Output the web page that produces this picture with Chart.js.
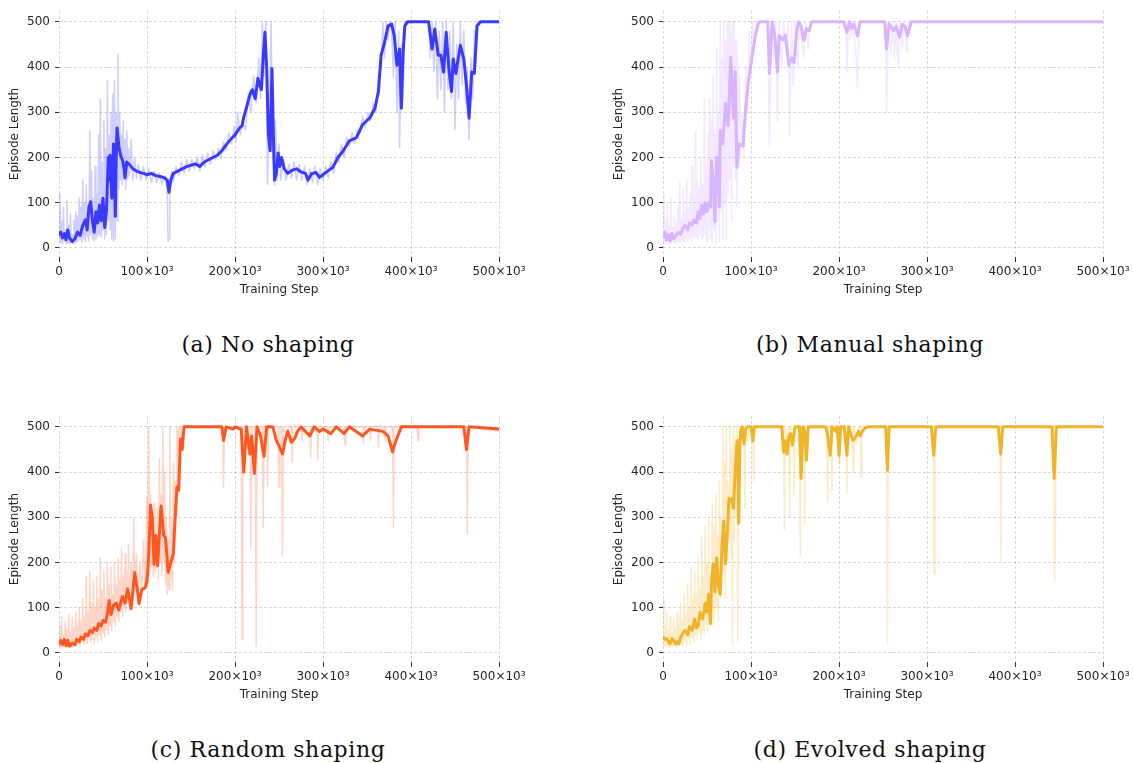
<!DOCTYPE html>
<html>
<head>
<meta charset="utf-8">
<script src="https://cdn.jsdelivr.net/npm/chart.js@4"></script>
<style>
  body { margin: 0; background: #fff; width: 1133px; height: 763px; overflow: hidden; position: relative; }
  canvas { position: absolute; }
  .caption { position: absolute; width: 400px; text-align: center; font-family: 'DejaVu Serif', serif; font-size: 22px; line-height: 22px; letter-spacing: 0.6px; color: #111; }
</style>
</head>
<body>
<canvas id="chartA" width="529" height="300" style="left:0;top:0"></canvas>
<canvas id="chartB" width="529" height="300" style="left:604px;top:0"></canvas>
<canvas id="chartC" width="529" height="300" style="left:0;top:405px"></canvas>
<canvas id="chartD" width="529" height="300" style="left:604px;top:405px"></canvas>
<div class="caption" style="left:68px;top:334px">(a) No shaping</div>
<div class="caption" style="left:670px;top:334px">(b) Manual shaping</div>
<div class="caption" style="left:68px;top:739px">(c) Random shaping</div>
<div class="caption" style="left:670px;top:739px">(d) Evolved shaping</div>
<script>
/* global Chart */

// steps are in thousands, values are episode lengths
const xTicks = [0, 100000, 200000, 300000, 400000, 500000];
const yTicks = [0, 100, 200, 300, 400, 500];

const noShapingSmooth = [[0,30],[2,35],[4,22],[6,32],[8,18],[10,40],[12,22],[15,14],[18,20],[21,35],[24,28],[27,50],[30,62],[32,40],[34,90],[36,102],[38,60],[40,35],[42,80],[44,55],[46,95],[48,60],[50,110],[52,45],[54,85],[56,200],[57,150],[58,205],[60,110],[62,230],[63,150],[64,70],[65,200],[66,265],[68,225],[70,205],[72,195],[74,175],[75,155],[77,190],[80,185],[84,175],[88,170],[92,167],[96,165],[100,162],[105,165],[110,160],[115,158],[120,155],[123,150],[125,123],[127,150],[130,165],[135,170],[140,175],[145,180],[150,183],[155,186],[160,180],[165,190],[170,195],[175,200],[180,205],[185,215],[190,228],[195,240],[200,250],[205,265],[208,270],[210,290],[213,310],[215,325],[218,345],[220,350],[223,330],[226,375],[228,360],[230,350],[232,420],[234,477],[236,400],[238,250],[240,215],[242,397],[244,220],[245,150],[247,165],[249,210],[251,180],[253,200],[256,175],[260,165],[265,172],[270,175],[275,168],[280,165],[283,150],[287,164],[292,167],[296,156],[300,162],[306,171],[311,178],[317,200],[323,215],[330,237],[338,244],[345,273],[353,287],[359,309],[363,346],[366,426],[370,455],[374,491],[378,495],[381,469],[384,404],[387,440],[389,309],[391,433],[393,491],[396,500],[420,500],[424,440],[427,484],[431,426],[434,426],[437,389],[440,477],[443,397],[446,346],[448,418],[451,386],[456,448],[460,418],[463,360],[466,287],[469,389],[472,386],[475,491],[479,500],[500,500]];
const noShapingRaw = [[0,15],[1,120],[2,12],[3,60],[4,10],[5,90],[6,15],[7,40],[8,10],[9,105],[10,12],[11,50],[12,10],[13,75],[14,12],[15,30],[16,10],[17,60],[18,15],[19,80],[20,12],[21,70],[22,15],[23,110],[24,18],[25,90],[26,12],[27,150],[28,20],[29,100],[30,15],[31,140],[32,25],[33,95],[34,15],[35,260],[36,30],[37,170],[38,20],[39,110],[40,15],[41,180],[42,20],[43,120],[44,25],[45,250],[46,30],[47,330],[48,25],[49,190],[50,40],[51,280],[52,20],[53,220],[54,30],[55,370],[56,60],[57,250],[58,40],[59,300],[60,20],[61,340],[62,15],[63,370],[64,20],[65,300],[66,60],[67,428],[68,130],[69,300],[70,150],[71,250],[72,140],[73,280],[74,150],[75,240],[76,130],[77,260],[78,150],[79,220],[80,160],[82,240],[84,150],[86,200],[88,155],[90,185],[93,150],[96,180],[99,150],[102,175],[105,145],[108,170],[111,145],[114,165],[117,140],[120,160],[123,130],[124,15],[125,20],[126,150],[128,170],[130,145],[133,180],[136,160],[139,190],[142,165],[145,195],[148,170],[151,195],[154,175],[157,200],[160,170],[163,205],[166,180],[169,210],[172,185],[175,215],[178,195],[181,220],[184,200],[187,235],[190,215],[193,255],[196,230],[199,270],[201,235],[203,300],[206,250],[209,280],[212,260],[215,340],[218,300],[221,380],[224,320],[227,420],[229,330],[231,500],[233,380],[235,500],[237,140],[239,300],[241,500],[243,200],[245,140],[246,280],[248,150],[250,230],[252,150],[255,195],[258,150],[261,185],[264,155],[267,190],[270,150],[273,185],[276,150],[279,180],[282,140],[285,175],[288,145],[291,180],[294,140],[297,175],[300,150],[303,180],[306,155],[309,190],[312,165],[315,210],[318,190],[321,230],[324,200],[327,245],[330,225],[333,255],[336,230],[339,260],[342,255],[345,290],[348,265],[351,300],[354,280],[357,320],[360,300],[363,380],[366,400],[368,500],[370,420],[372,500],[374,460],[376,500],[378,480],[380,380],[382,500],[384,300],[386,480],[387,222],[389,450],[391,330],[393,500],[420,500],[422,420],[424,500],[426,390],[428,500],[430,330],[432,480],[434,350],[436,500],[438,300],[440,500],[442,350],[444,480],[446,330],[448,500],[450,262],[452,450],[454,330],[456,500],[458,360],[460,480],[462,320],[464,400],[466,240],[468,420],[470,330],[472,480],[474,420],[476,500],[500,500]];

const manualSmooth = [[0,25],[2,35],[4,18],[6,30],[8,15],[10,32],[12,20],[15,28],[18,35],[20,30],[23,45],[25,50],[28,40],[30,55],[33,50],[35,62],[38,55],[40,80],[42,65],[44,95],[46,75],[48,100],[50,80],[52,100],[54,90],[55,193],[57,150],[59,58],[61,200],[63,150],[64,91],[65,260],[68,230],[71,320],[74,270],[77,422],[80,287],[82,390],[84,178],[86,230],[91,225],[94,310],[97,367],[101,420],[105,470],[108,495],[110,500],[119,500],[121,386],[124,500],[127,470],[130,389],[132,470],[136,460],[139,470],[143,404],[146,420],[149,410],[152,480],[154,500],[157,490],[160,459],[163,485],[166,480],[169,500],[205,500],[209,477],[212,500],[214,485],[217,495],[221,469],[224,500],[252,500],[254,440],[257,495],[262,480],[265,490],[269,466],[272,495],[275,490],[278,469],[282,500],[500,500]];
const manualRaw = [[0,40],[1,120],[2,10],[3,60],[4,12],[5,100],[6,10],[7,50],[8,12],[9,110],[10,10],[11,45],[12,15],[13,70],[14,10],[15,55],[16,12],[17,90],[18,15],[19,145],[20,12],[21,60],[22,18],[23,130],[24,15],[25,80],[26,20],[27,150],[28,15],[29,90],[30,20],[31,120],[32,15],[33,180],[34,25],[35,100],[36,20],[37,260],[38,25],[39,150],[40,20],[41,130],[42,30],[43,200],[44,20],[45,140],[46,25],[47,330],[48,30],[49,180],[50,15],[51,250],[52,40],[53,330],[54,20],[55,280],[56,10],[57,380],[58,40],[59,250],[60,10],[61,440],[62,60],[63,300],[64,15],[65,500],[66,80],[67,420],[68,20],[69,500],[70,100],[71,460],[72,20],[73,500],[74,120],[75,500],[76,150],[77,480],[78,60],[79,500],[80,180],[81,500],[82,150],[83,460],[84,90],[85,420],[86,180],[87,380],[88,200],[90,300],[92,200],[94,400],[96,300],[98,480],[100,380],[102,500],[104,450],[106,500],[119,500],[121,222],[123,500],[126,420],[128,500],[130,280],[132,500],[135,400],[137,500],[140,430],[142,500],[144,250],[146,500],[148,360],[150,500],[153,400],[155,500],[160,420],[162,500],[165,440],[167,500],[208,500],[209,389],[211,500],[213,460],[215,500],[219,440],[221,353],[223,500],[253,500],[254,300],[256,500],[259,430],[261,500],[263,420],[265,500],[267,400],[269,500],[272,440],[274,500],[277,430],[279,500],[500,500]];

const randomSmooth = [[0,20],[2,28],[4,18],[6,30],[8,16],[10,28],[12,15],[15,22],[18,18],[20,30],[23,25],[25,35],[28,30],[30,42],[33,38],[35,50],[38,45],[40,55],[43,50],[45,65],[48,60],[50,72],[53,68],[55,87],[57,116],[59,85],[62,105],[65,110],[68,95],[72,125],[75,110],[78,142],[82,98],[86,178],[89,140],[91,109],[94,140],[98,145],[100,160],[102,218],[104,327],[106,300],[108,196],[110,260],[112,193],[116,325],[119,260],[121,255],[124,178],[127,200],[130,220],[132,300],[134,367],[136,360],[138,473],[140,450],[142,500],[185,500],[187,470],[190,500],[198,495],[200,500],[207,495],[210,400],[213,500],[217,440],[219,480],[222,397],[225,500],[229,480],[233,435],[236,500],[243,500],[247,470],[250,458],[254,440],[257,470],[260,490],[264,466],[268,475],[271,490],[275,500],[285,480],[290,500],[296,490],[300,495],[309,485],[315,500],[324,485],[330,500],[345,480],[353,495],[368,490],[374,480],[379,445],[383,470],[386,485],[389,500],[460,500],[463,450],[466,500],[500,495]];
const randomRaw = [[0,15],[1,60],[2,12],[3,80],[4,15],[5,40],[6,12],[7,70],[8,20],[9,50],[10,12],[11,85],[12,15],[13,45],[14,12],[15,80],[16,15],[17,55],[18,20],[19,90],[20,15],[21,60],[22,20],[23,100],[24,15],[25,70],[26,25],[27,120],[28,20],[29,80],[30,25],[31,170],[32,20],[33,90],[34,30],[35,180],[36,25],[37,110],[38,30],[39,160],[40,20],[41,100],[42,35],[43,170],[44,25],[45,120],[46,40],[47,210],[48,30],[49,140],[50,45],[51,180],[52,35],[53,120],[54,50],[55,200],[56,40],[57,150],[58,60],[59,190],[60,50],[61,130],[62,70],[63,200],[64,60],[65,150],[66,80],[67,210],[68,70],[69,160],[70,90],[71,230],[72,80],[73,170],[74,100],[75,220],[76,90],[77,180],[78,110],[79,240],[80,100],[82,200],[84,120],[85,298],[86,130],[88,220],[90,120],[92,200],[94,130],[96,250],[98,140],[100,345],[101,150],[102,500],[103,170],[104,350],[105,190],[106,280],[107,170],[108,330],[109,180],[110,250],[111,190],[112,320],[113,160],[114,430],[115,200],[116,350],[117,170],[118,500],[119,200],[120,400],[121,150],[122,300],[123,130],[124,250],[125,140],[126,500],[127,160],[128,300],[129,140],[130,420],[131,200],[132,380],[133,300],[134,500],[135,350],[136,500],[137,420],[138,500],[140,470],[142,500],[186,500],[187,367],[188,500],[207,500],[208,29],[209,500],[213,500],[214,450],[215,500],[217,500],[218,233],[219,500],[223,500],[224,15],[225,500],[231,500],[232,277],[233,500],[236,500],[237,370],[238,500],[249,500],[250,367],[251,500],[253,500],[254,215],[255,500],[259,480],[261,500],[264,500],[265,422],[266,500],[275,500],[276,470],[277,500],[285,500],[286,433],[287,500],[293,500],[294,426],[295,500],[305,500],[306,470],[307,500],[324,500],[325,460],[326,500],[345,500],[346,465],[347,500],[353,500],[354,470],[355,500],[362,500],[363,455],[364,500],[370,500],[371,470],[372,500],[379,500],[380,278],[381,500],[407,500],[408,470],[409,500],[463,500],[464,265],[465,500],[500,490]];

const evolvedSmooth = [[0,35],[2,30],[4,32],[6,25],[8,20],[10,32],[12,28],[14,20],[16,25],[18,20],[20,35],[23,45],[25,50],[28,40],[30,58],[33,50],[36,75],[38,55],[40,60],[42,90],[45,75],[48,110],[50,90],[52,130],[54,65],[55,150],[57,197],[59,135],[61,210],[63,150],[65,130],[67,233],[69,291],[71,197],[73,260],[75,342],[78,340],[80,320],[82,400],[84,466],[85,470],[86,287],[87,420],[88,490],[90,500],[92,462],[94,495],[96,500],[100,500],[102,469],[104,500],[135,500],[137,444],[139,470],[141,440],[143,480],[145,485],[147,460],[150,500],[155,500],[157,386],[159,500],[161,490],[163,426],[165,500],[185,500],[187,480],[190,437],[192,500],[196,490],[198,500],[200,437],[202,500],[206,500],[209,437],[211,500],[214,480],[216,470],[219,478],[222,490],[224,480],[227,492],[230,498],[233,500],[253,500],[255,404],[257,500],[305,500],[307.6,437],[310,500],[381,500],[383.7,440],[386,500],[442,500],[444.5,386],[447,500],[500,500]];
const evolvedRaw = [[0,120],[1,15],[2,60],[3,12],[4,90],[5,15],[6,50],[7,12],[8,80],[9,15],[10,40],[11,12],[12,75],[13,15],[14,55],[15,12],[16,90],[17,15],[18,60],[19,20],[20,110],[21,15],[22,70],[23,20],[24,130],[25,25],[26,85],[27,20],[28,150],[29,30],[30,100],[31,20],[32,190],[33,35],[34,120],[35,25],[36,180],[37,40],[38,130],[39,30],[40,210],[41,45],[42,140],[43,30],[44,260],[45,50],[46,170],[47,40],[48,280],[49,60],[50,200],[51,45],[52,300],[53,70],[54,180],[55,90],[56,330],[57,60],[58,280],[59,80],[60,350],[61,100],[62,260],[63,70],[64,380],[65,120],[66,300],[67,150],[68,500],[69,180],[70,420],[71,120],[72,500],[73,200],[74,380],[75,250],[76,500],[77,210],[78,450],[79,20],[80,500],[81,250],[82,480],[83,300],[84,500],[85,25],[86,400],[87,300],[88,500],[90,480],[92,500],[93,320],[94,500],[96,470],[98,500],[102,500],[103,378],[104,500],[137,500],[138,273],[139,500],[141,460],[143,500],[144,300],[145,500],[148,470],[149,349],[150,500],[155,500],[156,215],[157,500],[160,500],[161,284],[162,500],[186,500],[187,335],[188,500],[191,500],[192,360],[193,500],[199,500],[200,420],[201,500],[208,500],[209,353],[210,500],[215,500],[216,400],[217,500],[220,460],[222,500],[224,500],[225,389],[226,500],[254,500],[255,22],[256,500],[307,500],[308,175],[309,500],[383,500],[384,204],[385,500],[444,500],[445,160],[446,280],[447,500],[500,500]];

const textColor = '#262626';
const gridColor = 'rgba(0,0,0,0.15)';
const tickFont = { family: 'DejaVu Sans', size: 12 };
const yTickFont = { family: 'DejaVu Sans', size: 12, lineHeight: 1 };

function toPoints(pairs) {
  return pairs.map(function (p) {
    return { x: p[0] * 1000, y: p[1] };
  });
}

function xTickLabel(v) {
  return v === 0 ? '0' : (v / 1000) + '\u00d710\u00b3';
}

function buildChart(id, smooth, raw, color, faded) {
  new Chart(document.getElementById(id), {
    type: 'line',
    data: {
      datasets: [
        { data: toPoints(smooth), borderColor: color, borderWidth: 3, order: 0 },
        { data: toPoints(raw), borderColor: faded, borderWidth: 1.5, order: 1 }
      ]
    },
    options: {
      responsive: false,
      animation: false,
      devicePixelRatio: 1,
      elements: {
        point: { radius: 0 },
        line: { tension: 0, fill: false, borderJoinStyle: 'round', borderCapStyle: 'round' }
      },
      layout: { padding: { top: 9, right: 30, left: 0, bottom: 0 } },
      plugins: { legend: { display: false }, tooltip: { enabled: false } },
      scales: {
        x: {
          type: 'linear',
          min: 0,
          max: 500000,
          afterBuildTicks: function (s) { s.ticks = xTicks.map(function (v) { return { value: v }; }); },
          afterFit: function (s) { s.height = 43; },
          ticks: { callback: xTickLabel, font: tickFont, color: textColor, padding: 3, maxRotation: 0 },
          grid: { color: gridColor, tickColor: '#333', tickLength: 5, lineWidth: 1 },
          border: { display: false, dash: [3, 2] },
          title: { display: true, text: 'Training Step', font: tickFont, color: textColor, padding: { top: 0, bottom: 3 } }
        },
        y: {
          min: -20,
          max: 524,
          afterBuildTicks: function (s) { s.ticks = yTicks.map(function (v) { return { value: v }; }); },
          afterFit: function (s) { s.width = 59; },
          ticks: { callback: function (v) { return String(v); }, font: yTickFont, color: textColor, padding: 5 },
          grid: { color: gridColor, tickColor: '#333', tickLength: 4, lineWidth: 1 },
          border: { display: false, dash: [3, 2] },
          title: { display: true, text: 'Episode Length', font: tickFont, color: textColor, padding: { top: 8, bottom: 0 } }
        }
      }
    }
  });
}

buildChart('chartA', noShapingSmooth, noShapingRaw, '#3a3aff', 'rgba(58,58,255,0.25)');
buildChart('chartB', manualSmooth, manualRaw, '#d8b4fe', 'rgba(216,180,254,0.3)');
buildChart('chartC', randomSmooth, randomRaw, '#ff5722', 'rgba(255,87,34,0.25)');
buildChart('chartD', evolvedSmooth, evolvedRaw, '#f0b429', 'rgba(240,180,41,0.25)');
</script>
</body>
</html>
